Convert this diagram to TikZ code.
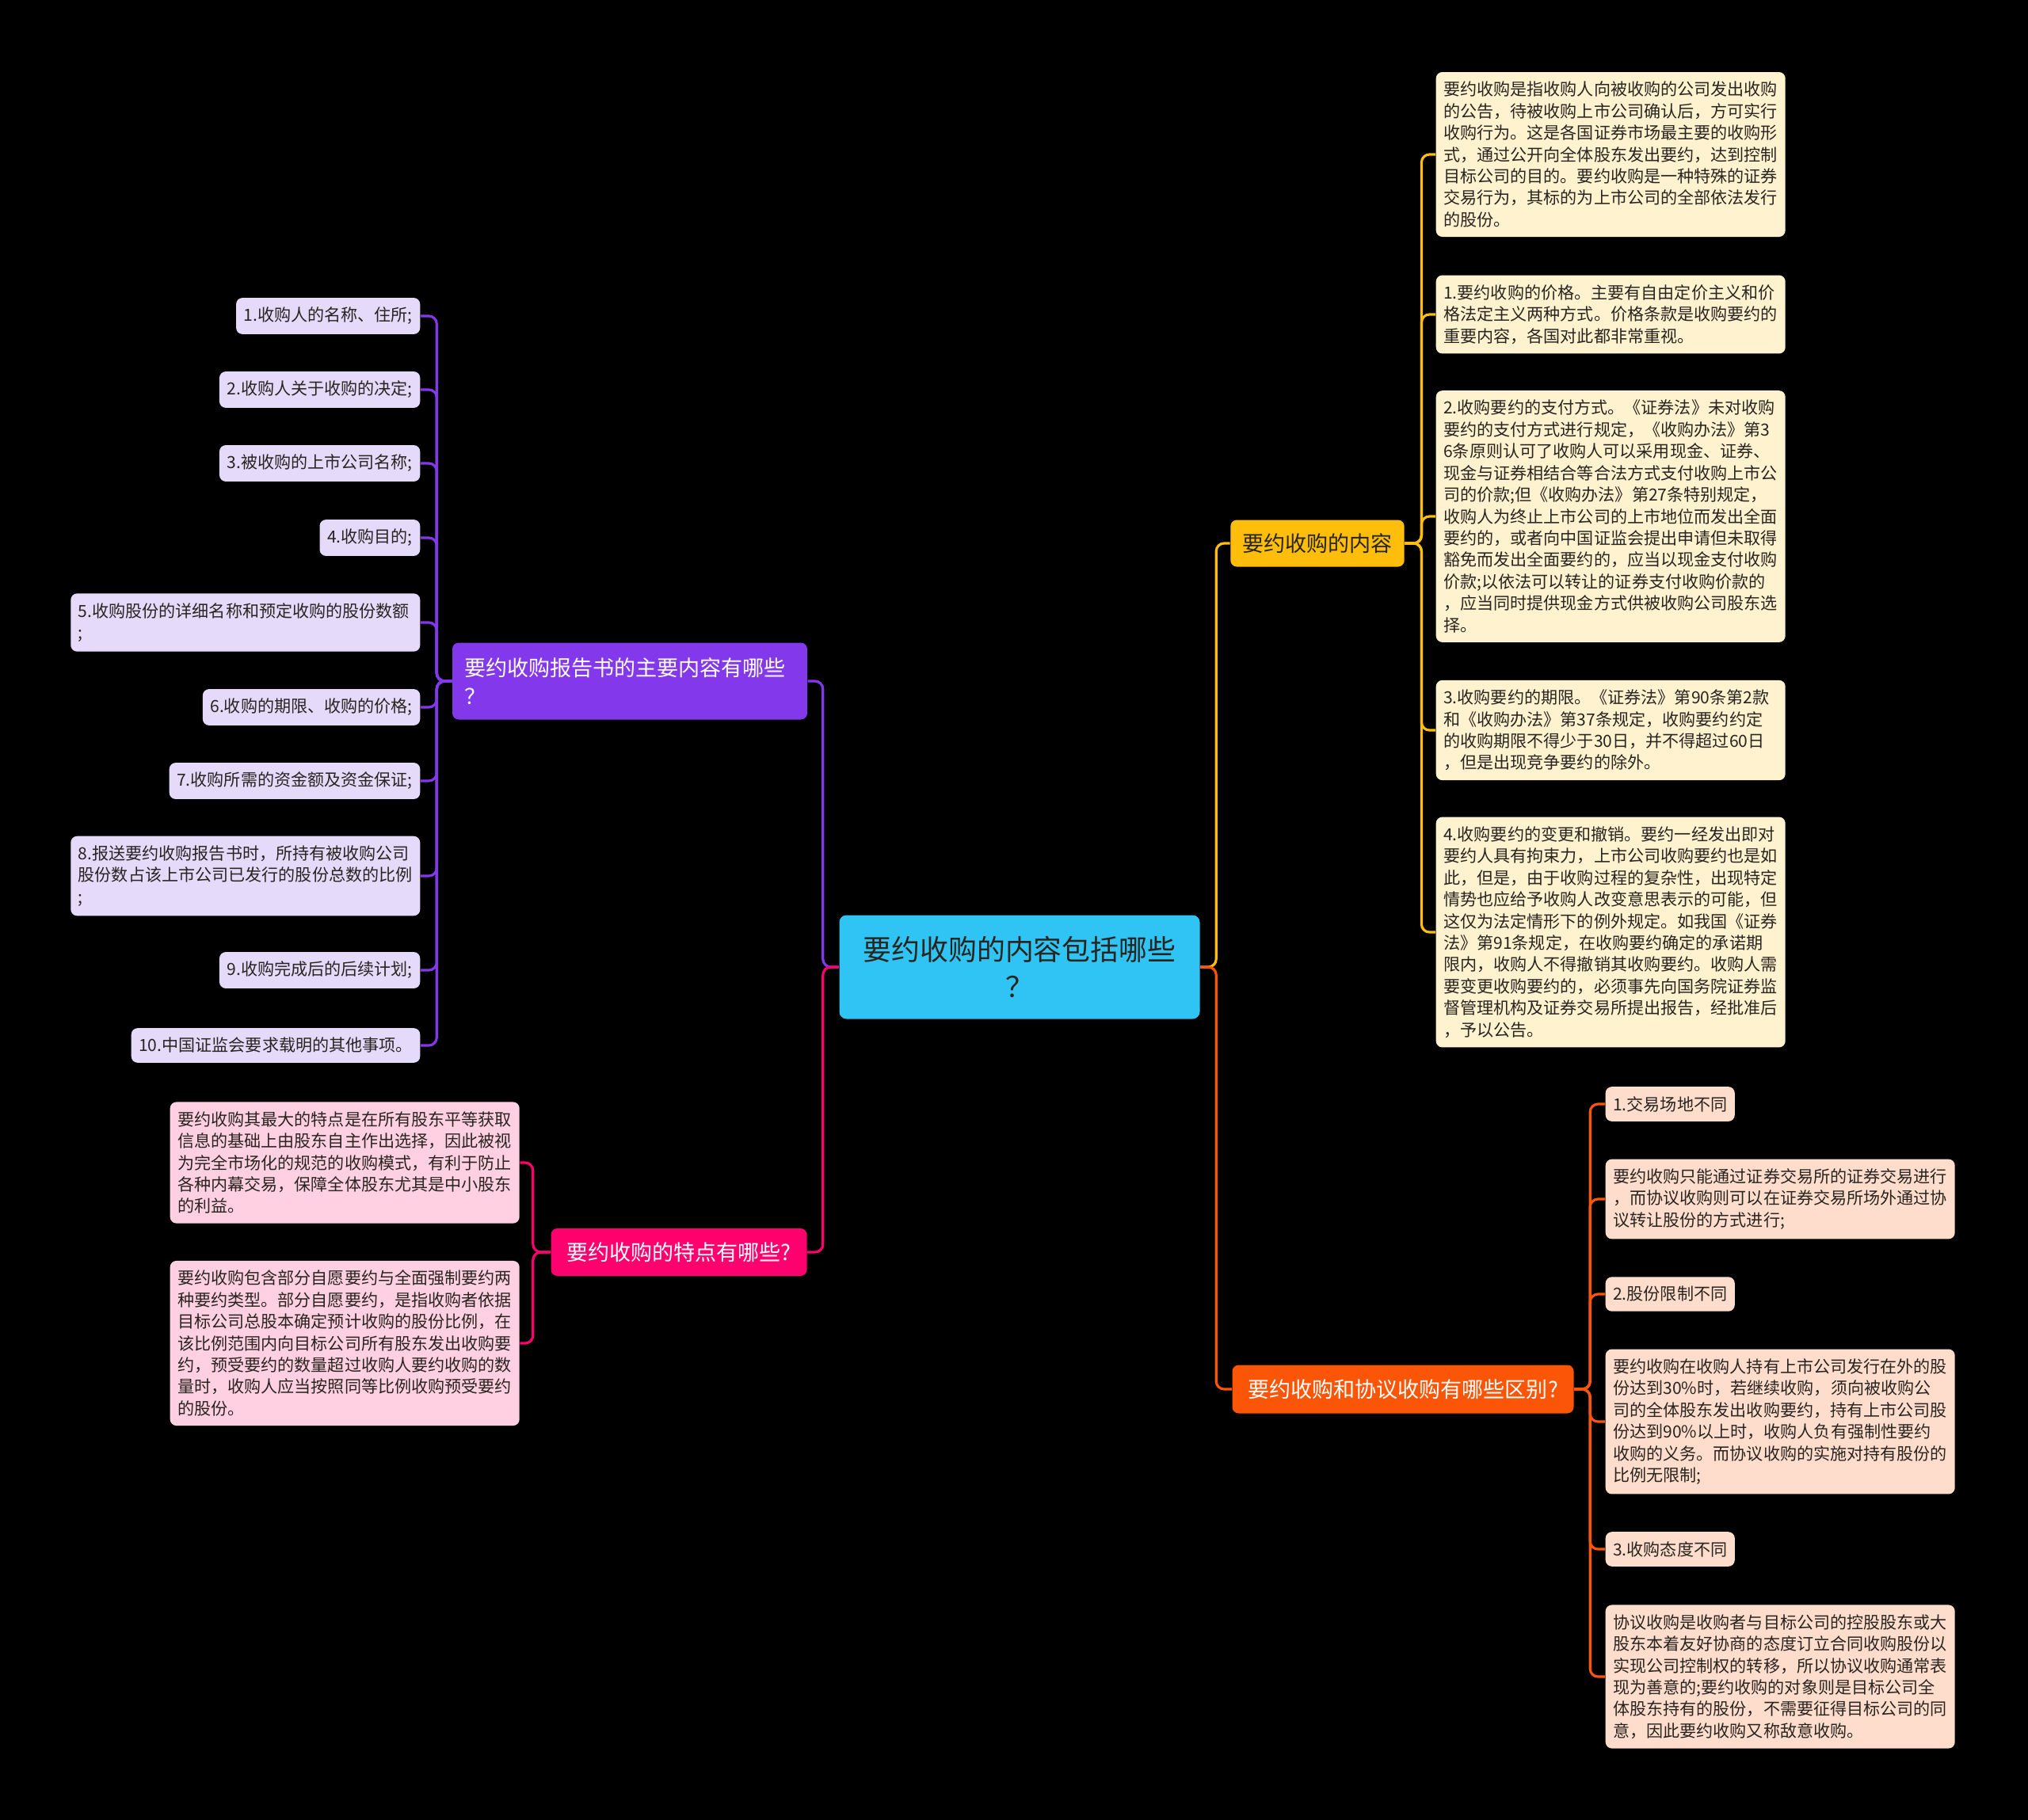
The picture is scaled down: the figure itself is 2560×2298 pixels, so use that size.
\documentclass[tikz,border=0pt]{standalone}
\usepackage{fontspec}
\setmainfont{Noto Sans CJK SC}
\usepackage{tikz}
\usetikzlibrary{positioning}
\definecolor{rootcyan}{RGB}{47,196,243}
\definecolor{reppurple}{RGB}{131,56,236}
\definecolor{featpink}{RGB}{255,0,110}
\definecolor{contyellow}{RGB}{255,190,11}
\definecolor{difforange}{RGB}{251,86,7}
\definecolor{repleaf}{RGB}{230,218,251}
\definecolor{featleaf}{RGB}{255,208,226}
\definecolor{contleaf}{RGB}{255,242,207}
\definecolor{diffleaf}{RGB}{255,221,205}
\definecolor{inkdark}{RGB}{40,36,32}
\tikzset{
  wire/.style={line width=0.9pt,rounded corners=1mm},
  wirep/.style={wire,draw=reppurple},
  wiref/.style={wire,draw=featpink},
  wirec/.style={wire,draw=contyellow},
  wired/.style={wire,draw=difforange},
  root/.style={fill=rootcyan,rounded corners=0.9mm,minimum width=45.5mm,minimum height=13.1mm,
               align=center,text=inkdark,font=\fontsize{10.2}{13.4}\selectfont},
  topic/.style={rounded corners=0.8mm,inner xsep=1.5mm,inner ysep=1.6mm,text=white,
                font=\fontsize{7.7}{10.2}\selectfont},
  leaf/.style={rounded corners=0.8mm,inner xsep=0.95mm,inner ysep=1.2mm,align=left,text=inkdark,
               font=\fontsize{6}{7.8}\selectfont},
  wide/.style={leaf,text width=42.2mm},
}

\begin{document}
\begin{tikzpicture}[x=0.1mm,y=-0.1mm]
  \fill[black] (0,0) rectangle (2560,2298);
  \path[use as bounding box] (0,0) rectangle (2560,2298);

  \node[root] (ROOT) at (1287,1221) {要约收购的内容包括哪些\\？};

  \node[topic,fill=reppurple,text width=41.8mm,minimum height=9.7mm,align=left] (REP) at (795,860)
    {要约收购报告书的主要内容有哪些\\？};
  \node[topic,fill=featpink,minimum width=32.3mm,minimum height=6mm] (FEAT) at (857,1581)
    {要约收购的特点有哪些?};
  \node[topic,fill=contyellow,text=inkdark,minimum width=21.4mm,minimum height=5.9mm] (CONT) at (1663,686)
    {要约收购的内容};
  \node[topic,fill=difforange,minimum width=43.1mm,minimum height=6.1mm] (DIFF) at (1771,1754)
    {要约收购和协议收购有哪些区别?};

  \draw[wirep] (ROOT.west) -- ++(-20,0) |- (REP.east);
  \draw[wiref] (ROOT.west) -- ++(-20,0) |- (FEAT.east);
  \draw[wirec] (ROOT.east) -- ++(20,0) |- (CONT.west);
  \draw[wired] (ROOT.east) -- ++(20,0) |- (DIFF.west);

  % report contents
  \node[leaf,fill=repleaf,anchor=east] (R1) at (531,399) {1.收购人的名称、住所;};
  \node[leaf,fill=repleaf,anchor=east] (R2) at (531,492) {2.收购人关于收购的决定;};
  \node[leaf,fill=repleaf,anchor=east] (R3) at (531,585) {3.被收购的上市公司名称;};
  \node[leaf,fill=repleaf,anchor=east] (R4) at (531,679) {4.收购目的;};
  \node[wide,fill=repleaf,anchor=east] (R5) at (531,786)
    {5.收购股份的详细名称和预定收购的股份数额\\;};
  \node[leaf,fill=repleaf,anchor=east] (R6) at (531,893) {6.收购的期限、收购的价格;};
  \node[leaf,fill=repleaf,anchor=east] (R7) at (531,986) {7.收购所需的资金额及资金保证;};
  \node[wide,fill=repleaf,anchor=east] (R8) at (531,1106)
    {8.报送要约收购报告书时，所持有被收购公司\\股份数占该上市公司已发行的股份总数的比例\\;};
  \node[leaf,fill=repleaf,anchor=east] (R9) at (531,1225) {9.收购完成后的后续计划;};
  \node[leaf,fill=repleaf,anchor=east] (R10) at (531,1320) {10.中国证监会要求载明的其他事项。};
  \draw[wirep] (REP.west) -- ++(-19,0) |- (R1.east);
  \draw[wirep] (REP.west) -- ++(-19,0) |- (R2.east);
  \draw[wirep] (REP.west) -- ++(-19,0) |- (R3.east);
  \draw[wirep] (REP.west) -- ++(-19,0) |- (R4.east);
  \draw[wirep] (REP.west) -- ++(-19,0) |- (R5.east);
  \draw[wirep] (REP.west) -- ++(-19,0) |- (R6.east);
  \draw[wirep] (REP.west) -- ++(-19,0) |- (R7.east);
  \draw[wirep] (REP.west) -- ++(-19,0) |- (R8.east);
  \draw[wirep] (REP.west) -- ++(-19,0) |- (R9.east);
  \draw[wirep] (REP.west) -- ++(-19,0) |- (R10.east);

  % features
  \node[wide,fill=featleaf,anchor=west] (F1) at (214,1468)
    {要约收购其最大的特点是在所有股东平等获取\\信息的基础上由股东自主作出选择，因此被视\\为完全市场化的规范的收购模式，有利于防止\\各种内幕交易，保障全体股东尤其是中小股东\\的利益。};
  \node[wide,fill=featleaf,anchor=west] (F2) at (214,1696)
    {要约收购包含部分自愿要约与全面强制要约两\\种要约类型。部分自愿要约，是指收购者依据\\目标公司总股本确定预计收购的股份比例，在\\该比例范围内向目标公司所有股东发出收购要\\约，预受要约的数量超过收购人要约收购的数\\量时，收购人应当按照同等比例收购预受要约\\的股份。};
  \draw[wiref] (FEAT.west) -- ++(-22,0) |- (F1.east);
  \draw[wiref] (FEAT.west) -- ++(-22,0) |- (F2.east);

  % contents
  \node[wide,fill=contleaf,anchor=west] (C1) at (1812,195)
    {要约收购是指收购人向被收购的公司发出收购\\的公告，待被收购上市公司确认后，方可实行\\收购行为。这是各国证券市场最主要的收购形\\式，通过公开向全体股东发出要约，达到控制\\目标公司的目的。要约收购是一种特殊的证券\\交易行为，其标的为上市公司的全部依法发行\\的股份。};
  \node[wide,fill=contleaf,anchor=west] (C2) at (1812,397)
    {1.要约收购的价格。主要有自由定价主义和价\\格法定主义两种方式。价格条款是收购要约的\\重要内容，各国对此都非常重视。};
  \node[wide,fill=contleaf,anchor=west] (C3) at (1812,652)
    {2.收购要约的支付方式。《证券法》未对收购\\要约的支付方式进行规定，《收购办法》第3\\6条原则认可了收购人可以采用现金、证券、\\现金与证券相结合等合法方式支付收购上市公\\司的价款;但《收购办法》第27条特别规定，\\收购人为终止上市公司的上市地位而发出全面\\要约的，或者向中国证监会提出申请但未取得\\豁免而发出全面要约的，应当以现金支付收购\\价款;以依法可以转让的证券支付收购价款的\\，应当同时提供现金方式供被收购公司股东选\\择。};
  \node[wide,fill=contleaf,anchor=west] (C4) at (1812,922)
    {3.收购要约的期限。《证券法》第90条第2款\\和《收购办法》第37条规定，收购要约约定\\的收购期限不得少于30日，并不得超过60日\\，但是出现竞争要约的除外。};
  \node[wide,fill=contleaf,anchor=west] (C5) at (1812,1177)
    {4.收购要约的变更和撤销。要约一经发出即对\\要约人具有拘束力，上市公司收购要约也是如\\此，但是，由于收购过程的复杂性，出现特定\\情势也应给予收购人改变意思表示的可能，但\\这仅为法定情形下的例外规定。如我国《证券\\法》第91条规定，在收购要约确定的承诺期\\限内，收购人不得撤销其收购要约。收购人需\\要变更收购要约的，必须事先向国务院证券监\\督管理机构及证券交易所提出报告，经批准后\\，予以公告。};
  \draw[wirec] (CONT.east) -- ++(21,0) |- (C1.west);
  \draw[wirec] (CONT.east) -- ++(21,0) |- (C2.west);
  \draw[wirec] (CONT.east) -- ++(21,0) |- (C3.west);
  \draw[wirec] (CONT.east) -- ++(21,0) |- (C4.west);
  \draw[wirec] (CONT.east) -- ++(21,0) |- (C5.west);

  % differences
  \node[leaf,fill=diffleaf,anchor=west] (D1) at (2026,1394) {1.交易场地不同};
  \node[wide,fill=diffleaf,anchor=west] (D2) at (2026,1514)
    {要约收购只能通过证券交易所的证券交易进行\\，而协议收购则可以在证券交易所场外通过协\\议转让股份的方式进行;};
  \node[leaf,fill=diffleaf,anchor=west] (D3) at (2026,1634) {2.股份限制不同};
  \node[wide,fill=diffleaf,anchor=west] (D4) at (2026,1795)
    {要约收购在收购人持有上市公司发行在外的股\\份达到30\%时，若继续收购，须向被收购公\\司的全体股东发出收购要约，持有上市公司股\\份达到90\%以上时，收购人负有强制性要约\\收购的义务。而协议收购的实施对持有股份的\\比例无限制;};
  \node[leaf,fill=diffleaf,anchor=west] (D5) at (2026,1956) {3.收购态度不同};
  \node[wide,fill=diffleaf,anchor=west] (D6) at (2026,2117)
    {协议收购是收购者与目标公司的控股股东或大\\股东本着友好协商的态度订立合同收购股份以\\实现公司控制权的转移，所以协议收购通常表\\现为善意的;要约收购的对象则是目标公司全\\体股东持有的股份，不需要征得目标公司的同\\意，因此要约收购又称敌意收购。};
  \draw[wired] (DIFF.east) -- ++(20,0) |- (D1.west);
  \draw[wired] (DIFF.east) -- ++(20,0) |- (D2.west);
  \draw[wired] (DIFF.east) -- ++(20,0) |- (D3.west);
  \draw[wired] (DIFF.east) -- ++(20,0) |- (D4.west);
  \draw[wired] (DIFF.east) -- ++(20,0) |- (D5.west);
  \draw[wired] (DIFF.east) -- ++(20,0) |- (D6.west);
\end{tikzpicture}
\end{document}
